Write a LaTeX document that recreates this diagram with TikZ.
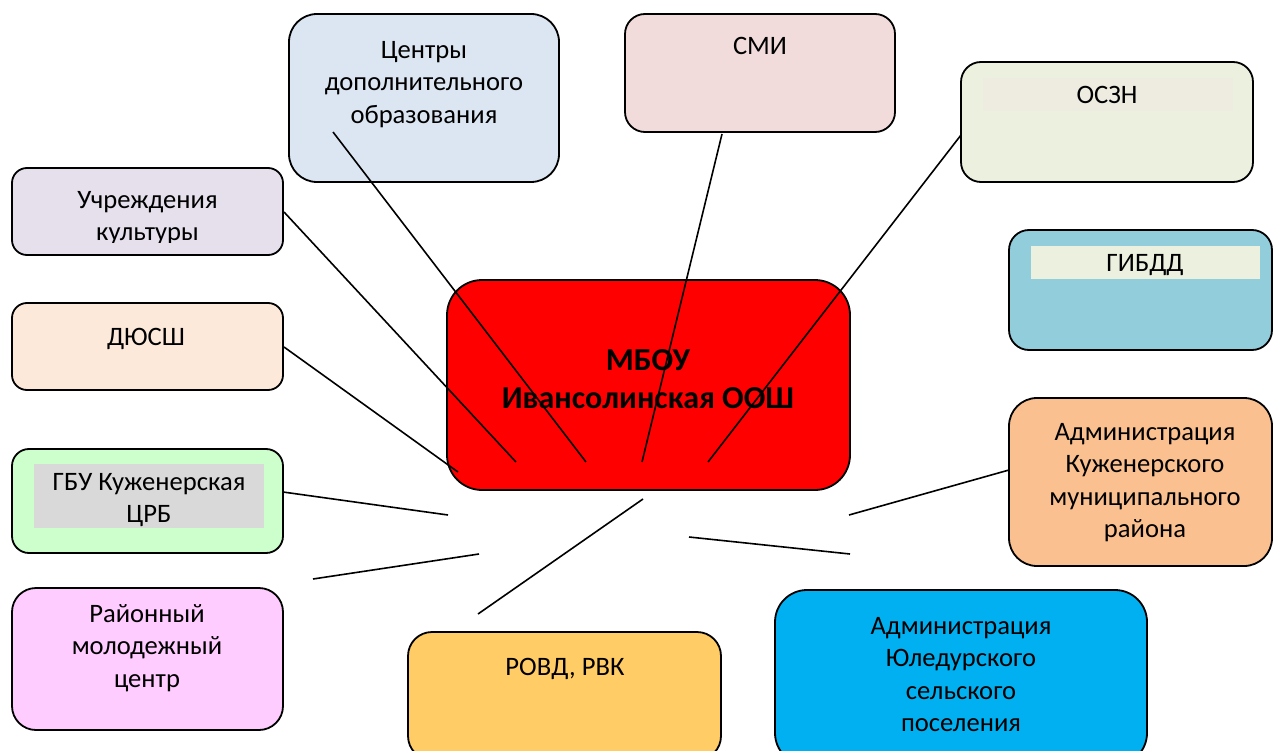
\documentclass[tikz,border=0pt]{standalone}
\usepackage{fontspec}
\setmainfont{Carlito}
\definecolor{cCentry}{HTML}{DCE6F2}
\definecolor{cSmi}{HTML}{F2DCDB}
\definecolor{cOszn}{HTML}{EBF1DE}
\definecolor{cOsznBand}{HTML}{EEECE1}
\definecolor{cGibdd}{HTML}{92CDDC}
\definecolor{cGibddBand}{HTML}{EBF1DE}
\definecolor{cKult}{HTML}{E5E0EC}
\definecolor{cDyussh}{HTML}{FDE9D9}
\definecolor{cGbu}{HTML}{CCFFCC}
\definecolor{cGbuBand}{HTML}{D9D9D9}
\definecolor{cRmc}{HTML}{FFCCFF}
\definecolor{cRovd}{HTML}{FFCC66}
\definecolor{cYule}{HTML}{00B0F0}
\definecolor{cKuzh}{HTML}{FAC090}
\definecolor{cMain}{HTML}{FF0000}
\newcommand\fstrut{\rule{0pt}{25pt}}
\begin{document}
\begin{tikzpicture}[x=1pt,y=-1pt,
  box/.style={draw=black, line width=1.8pt, rectangle, rounded corners=#1, inner sep=0pt, outer sep=0pt},
  box/.default=20pt,
  txt/.style={anchor=north, inner sep=0pt, align=center, text=black,
    font=\fontsize{26.6}{32.5}\selectfont},
  maintxt/.style={anchor=north, inner sep=0pt, align=center, text=black,
    font=\fontsize{32}{38.5}\selectfont\bfseries},
  link/.style={draw=black, line width=1.6pt}]
\useasboundingbox (0,0) rectangle (1273,751);
\clip (0,0) rectangle (1273,751);

% central box
\node[box=35pt, fill=cMain, minimum width=403pt, minimum height=210pt] (main) at (648.5,385) {};
\node[maintxt] (maint) at (648,345) {\fstrut МБОУ\\Ивансолинская ООШ};

% outer boxes
\node[box=28pt, fill=cCentry, minimum width=270pt, minimum height=168pt] (centry) at (424,98) {};
\node[box=20pt, fill=cSmi, minimum width=270pt, minimum height=118pt] (smi) at (760,73) {};
\node[box=20pt, fill=cOszn, minimum width=292pt, minimum height=120pt] (oszn) at (1107,122) {};
\node[box=20pt, fill=cGibdd, minimum width=263pt, minimum height=120pt] (gibdd) at (1140.5,290) {};
\node[box=15pt, fill=cKult, minimum width=271pt, minimum height=87pt] (kult) at (147.5,211.5) {};
\node[box=15pt, fill=cDyussh, minimum width=271pt, minimum height=87pt] (dyussh) at (147.5,346.5) {};
\node[box=17pt, fill=cGbu, minimum width=271pt, minimum height=104pt] (gbu) at (147.5,501) {};
\node[box=24pt, fill=cRmc, minimum width=271pt, minimum height=142pt] (rmc) at (147.5,659) {};
\node[box=24pt, fill=cRovd, minimum width=313pt, minimum height=128pt] (rovd) at (564.5,696) {};
\node[box=32pt, fill=cYule, minimum width=372pt, minimum height=175pt] (yule) at (961,677.5) {};
\node[box=28pt, fill=cKuzh, minimum width=263pt, minimum height=168pt] (kuzh) at (1140.5,482) {};

% text bands
\fill[cOsznBand] (983,78) rectangle (1233,111);
\fill[cGibddBand] (1031,246) rectangle (1260,279);
\fill[cGbuBand] (34,464) rectangle (264,528);

% texts
\node[txt] (centryt) at (424,33) {\fstrut Центры\\дополнительного\\образования};
\node[txt] (smit) at (760,29) {\fstrut СМИ};
\node[txt] (osznt) at (1107,78) {\fstrut ОСЗН};
\node[txt] (gibddt) at (1145,246) {\fstrut ГИБДД};
\begin{scope}
  \clip (12,168) rectangle (283,243);
  \node[txt] (kultt) at (147.5,183) {\fstrut Учреждения\\культуры};
\end{scope}
\node[txt] (dyussht) at (146,320) {\fstrut ДЮСШ};
\node[txt] (gbut) at (149,465) {\fstrut ГБУ Куженерская\\ЦРБ};
\node[txt] (rmct) at (147,597) {\fstrut Районный\\молодежный\\центр};
\node[txt] (rovdt) at (565,650) {\fstrut РОВД, РВК};
\node[txt] (yulet) at (961,609) {\fstrut Администрация\\Юледурского\\сельского\\поселения};
\node[txt] (kuzht) at (1145,415) {\fstrut Администрация\\Куженерского\\муниципального\\района};

% connector end points
\coordinate (pKultA) at (284,212);    \coordinate (pKultB) at (516,462);
\coordinate (pCentA) at (333,132);    \coordinate (pCentB) at (586,462);
\coordinate (pSmiA) at (722,134);     \coordinate (pSmiB) at (642,462);
\coordinate (pOsznA) at (961,135);    \coordinate (pOsznB) at (708,462);
\coordinate (pDyuA) at (284,347);     \coordinate (pDyuB) at (458,472);
\coordinate (pGbuA) at (283,492);     \coordinate (pGbuB) at (448,515);
\coordinate (pRmcA) at (313,579);     \coordinate (pRmcB) at (479,554);
\coordinate (pRovdA) at (478,614);    \coordinate (pRovdB) at (643,499);
\coordinate (pYuleA) at (689,537);    \coordinate (pYuleB) at (850,554);
\coordinate (pKuzhA) at (1009,470);   \coordinate (pKuzhB) at (849,515);

% connectors
\draw[link] (pKultA) -- (pKultB);
\draw[link] (pCentA) -- (pCentB);
\draw[link] (pSmiA) -- (pSmiB);
\draw[link] (pOsznA) -- (pOsznB);
\draw[link] (pDyuA) -- (pDyuB);
\draw[link] (pGbuA) -- (pGbuB);
\draw[link] (pRmcA) -- (pRmcB);
\draw[link] (pRovdA) -- (pRovdB);
\draw[link] (pYuleA) -- (pYuleB);
\draw[link] (pKuzhA) -- (pKuzhB);
\end{tikzpicture}
\end{document}
